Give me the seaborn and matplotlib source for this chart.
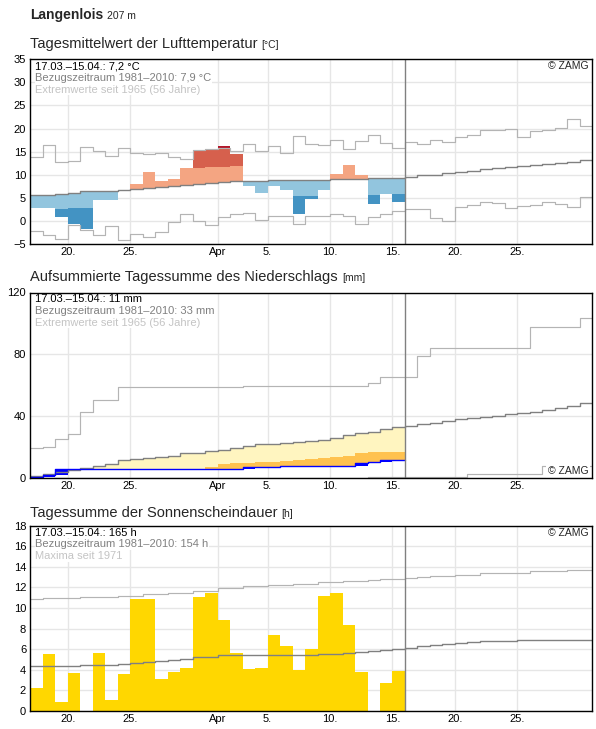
import numpy as np
import pandas as pd
import matplotlib
matplotlib.use('Agg')
import matplotlib.pyplot as plt
import seaborn as sns

# x axis = day index, 0 = 17.03., 45 days shown (up to 30.04.)
tick_pos = [3, 8, 15, 19, 24, 29, 34, 39]
tick_labels = ['20.', '25.', 'Apr', '5.', '10.', '15.', '20.', '25.']
n_obs = 30  # 17.03.-15.04.

## Temperature (degC)
temp_day = [2.9, 2.9, 0.9, -0.6, -1.7, 4.5, 4.5, 6.7, 8.1, 10.6,
            8.7, 9.1, 11.5, 15.4, 15.6, 16.2, 14.5, 7.5, 6.1, 7.5,
            6.6, 1.5, 4.7, 6.8, 10.2, 12.1, 10.0, 3.6, 5.9, 4.2]
# edge between light and strong anomaly class (nan = only light class)
temp_edge = [np.nan, np.nan, 2.6, 2.7, 2.9, np.nan, np.nan, np.nan, np.nan, np.nan,
             np.nan, np.nan, np.nan, 11.5, 11.7, 11.7, 11.9, np.nan, np.nan, np.nan,
             np.nan, 5.5, 5.5, np.nan, np.nan, np.nan, np.nan, 5.7, np.nan, 5.9]
temp_mean = [5.6, 5.6, 5.8, 6.1, 6.4, 6.4, 6.5, 6.7, 7.0, 7.2,
             7.3, 7.5, 7.8, 8.1, 8.3, 8.5, 8.6, 8.6, 8.6, 8.8,
             8.9, 8.9, 8.9, 8.9, 9.1, 9.1, 9.1, 9.2, 9.4, 9.4,
             9.6, 9.9, 10.0, 10.3, 10.6, 10.8, 11.3, 11.4, 11.6, 11.9,
             12.1, 12.3, 12.6, 12.8, 13.1]
temp_max = [13.8, 16.4, 12.7, 12.9, 15.9, 15.1, 14.0, 15.7, 14.6, 14.5,
            14.6, 13.9, 13.4, 15.4, 15.6, 15.8, 15.1, 16.6, 15.1, 16.2,
            14.6, 18.3, 16.6, 16.4, 17.6, 15.5, 17.4, 18.7, 16.8, 15.7,
            17.1, 16.6, 17.6, 17.0, 18.1, 18.5, 19.6, 19.6, 19.9, 18.1,
            19.4, 19.6, 20.2, 22.1, 20.6]
temp_min = [-2.1, -3.1, -4.0, -0.8, -2.0, -3.1, -1.1, -4.1, -2.9, -3.4,
            -2.5, -0.3, 1.4, -0.1, -0.8, 0.9, 1.4, 1.8, 0.1, 1.1,
            1.1, -0.6, 1.1, 1.0, 1.5, 1.0, -0.6, 0.8, 1.5, 2.1,
            2.6, 2.6, 0.6, 0.0, 3.1, 3.4, 4.1, 3.9, 2.9, 3.2,
            3.5, 4.1, 3.6, 3.1, 5.1]

## Precipitation (mm)
precip_day = [0.9, 1.4, 3.9, 0, 0, 0, 0, 0, 0, 0,
              0, 0, 0, 0, 0, 0, 0, 0.9, 0, 0,
              0.7, 0, 0, 0, 0, 0, 1.8, 1.2, 0.7, 0]
# lower edge of the normal range of the sum (orange below it)
precip_thr = [0, 0, 0, 0, 0, 0, 0, 0, 0, 0,
              0, 0, 0, 0, 7.5, 9.5, 9.8, 10.0, 10.8, 10.8,
              11.4, 12.0, 12.2, 13.0, 14.0, 14.6, 16.3, 17.0, 17.1, 17.2]
precip_mean = [1.7, 2.6, 3.9, 5.4, 6.9, 8.0, 9.5, 11.7, 12.3, 13.2,
               13.8, 14.7, 16.2, 16.6, 17.5, 18.4, 19.7, 20.8, 21.9, 22.4,
               22.8, 23.5, 24.4, 24.8, 25.9, 28.1, 29.2, 30.0, 31.8, 33.1,
               34.1, 35.0, 35.9, 37.2, 38.0, 38.7, 39.8, 40.4, 41.7, 42.4,
               43.0, 44.1, 45.2, 46.9, 48.6]
precip_max = [19.4, 19.9, 25.3, 28.5, 42.6, 50.8, 50.8, 59.0, 59.0, 59.0,
              59.0, 59.0, 59.0, 59.0, 59.0, 59.0, 59.0, 59.4, 59.4, 59.4,
              59.4, 59.4, 59.4, 59.4, 59.4, 59.4, 59.4, 61.5, 65.2, 65.2,
              65.2, 79.3, 84.1, 84.1, 84.1, 84.1, 84.1, 84.1, 84.1, 84.1,
              97.7, 97.7, 97.7, 97.7, 103.7]
precip_min = [0.3] * 27 + [1.0] * 8 + [2.8] * 6 + [8.0] * 4

## Sunshine (h)
sun_day = [2.25, 5.5, 0.9, 3.65, 0, 5.65, 1.1, 3.55, 10.9, 10.9,
           3.1, 3.8, 4.2, 11.1, 11.5, 8.8, 5.65, 4.1, 4.2, 7.4,
           6.3, 4.0, 6.05, 11.2, 11.5, 8.4, 3.8, 0, 2.7, 3.9]
sun_mean = [4.4, 4.4, 4.4, 4.4, 4.46, 4.46, 4.5, 4.6, 4.7, 4.8,
            4.9, 5.0, 5.05, 5.25, 5.25, 5.45, 5.45, 5.45, 5.45, 5.45,
            5.45, 5.45, 5.45, 5.5, 5.5, 5.6, 5.75, 5.8, 5.9, 6.0,
            6.15, 6.3, 6.4, 6.5, 6.6, 6.7, 6.8, 6.8, 6.8, 6.9,
            6.9, 6.9, 6.9, 6.9, 6.9]
sun_max = [10.9, 11.0, 11.0, 11.0, 11.1, 11.1, 11.1, 11.2, 11.2, 11.4,
           11.4, 11.5, 11.5, 11.7, 11.7, 11.9, 11.9, 12.1, 12.1, 12.2,
           12.2, 12.35, 12.35, 12.5, 12.5, 12.6, 12.6, 12.7, 12.85, 12.85,
           12.9, 13.0, 13.1, 13.1, 13.25, 13.25, 13.45, 13.45, 13.45, 13.45,
           13.6, 13.6, 13.6, 13.7, 13.7]

sns.set_theme(style='whitegrid')
plt.rcParams['font.family'] = ['Liberation Sans', 'DejaVu Sans']

W, H = 596, 729
fig = plt.figure(figsize=(W / 100, H / 100), dpi=100)


def px_axes(l, t, r, b):
    return fig.add_axes([l / W, 1 - b / H, (r - l) / W, (b - t) / H])


def step(ax, vals, color, lw=0.85, z=3):
    vals = list(vals)
    d = pd.DataFrame({'x': np.arange(len(vals) + 1), 'y': vals + [vals[-1]]})
    sns.lineplot(data=d, x='x', y='y', ax=ax, color=color, lw=lw,
                 drawstyle='steps-post', estimator=None, sort=False, zorder=z)


def setup(ax, ylim, yticks):
    ax.set_xlim(0, 45)
    ax.set_ylim(*ylim)
    ax.set_xticks(tick_pos)
    ax.set_xticklabels(tick_labels)
    ax.set_yticks(yticks)
    ax.set_xlabel('')
    ax.set_ylabel('')
    ax.grid(True, color='#e6e6e6', lw=1)
    ax.set_axisbelow(True)
    ax.tick_params(length=0, labelsize=8, colors='black', pad=3)
    ax.tick_params(axis='x', pad=2)
    for s in ax.spines.values():
        s.set_color('black')
        s.set_linewidth(1.0)
        s.set_zorder(10)
    ax.axvline(n_obs, color='#808080', lw=1.0, zorder=5)


def info(ax, lines):
    cols = ['black', '#808080', '#c4c4c4']
    for i, (s, c) in enumerate(zip(lines, cols)):
        ax.annotate(s, xy=(0, 1), xycoords='axes fraction',
                    xytext=(5, -7 - 11.6 * i), textcoords='offset pixels',
                    ha='left', va='center', color=c, fontsize=8, zorder=6,
                    bbox=dict(fc='white', ec='none', pad=0.6))


def title(y, text, unit):
    t = fig.text(30 / W, 1 - y / H, text, fontsize=10.5, va='center', ha='left')
    plt.annotate(unit, xy=(1, 0), xycoords=t, xytext=(3, 0.5),
                 textcoords='offset points', va='bottom', ha='left', fontsize=7.5)


days = np.arange(n_obs)

# ------------------------------------------------------------ temperature
ax1 = px_axes(30.3, 59.3, 592.3, 244)
t = np.array(temp_day)
m = np.array(temp_mean[:n_obs])
e = np.array(temp_edge)
mx = np.array(temp_max[:n_obs])
light_end = np.where(np.isnan(e), t, e)
cold = t < m
warm = t > m
strong = ~np.isnan(e)
bar_kw = dict(width=1, align='edge', lw=0, zorder=2)
ax1.bar(days[cold], (light_end - m)[cold], bottom=m[cold], color='#92c5de', **bar_kw)
ax1.bar(days[cold & strong], (t - e)[cold & strong], bottom=e[cold & strong], color='#4393c3', **bar_kw)
ax1.bar(days[warm], (light_end - m)[warm], bottom=m[warm], color='#f4a582', **bar_kw)
red_top = np.minimum(t, mx)
ax1.bar(days[warm & strong], (red_top - e)[warm & strong], bottom=e[warm & strong], color='#d6604d', **bar_kw)
rec = t > mx
ax1.bar(days[rec], (t - mx)[rec], bottom=mx[rec], color='#b2182b', **bar_kw)
step(ax1, temp_max, '#b4b4b4')
step(ax1, temp_min, '#b4b4b4')
step(ax1, temp_mean, '#808080', lw=1.0)
setup(ax1, (-5, 35), np.arange(-5, 36, 5))
info(ax1, ['17.03.\u201315.04.: 7,2 \u00b0C',
           'Bezugszeitraum 1981\u20132010: 7,9 \u00b0C',
           'Extremwerte seit 1965 (56 Jahre)'])
ax1.annotate('\u00a9 ZAMG', xy=(1, 1), xycoords='axes fraction', xytext=(-4, -7),
             textcoords='offset pixels', ha='right', va='center', fontsize=7.5)

# ------------------------------------------------------------ precipitation
ax2 = px_axes(30.3, 292.5, 592.3, 478.3)
p = np.array(precip_day)
cum = np.cumsum(p)
pm = np.array(precip_mean[:n_obs])
thr = np.array(precip_thr)
low = np.maximum(cum, thr)
dry = pm > low
ax2.bar(days[dry], (pm - low)[dry], bottom=low[dry], color='#fff5c0', **bar_kw)
vdry = thr > cum
ax2.bar(days[vdry], (thr - cum)[vdry], bottom=cum[vdry], color='#ffc24f', **bar_kw)
wet = p > 0
ax2.bar(days[wet], p[wet], bottom=(cum - p)[wet], color='#0000ff', **bar_kw)
step(ax2, precip_max, '#b4b4b4')
step(ax2, precip_min, '#b4b4b4')
step(ax2, precip_mean, '#808080', lw=1.0)
step(ax2, cum, '#0000ff', lw=1.0, z=4)
setup(ax2, (0, 120), [0, 40, 80, 120])
info(ax2, ['17.03.\u201315.04.: 11 mm',
           'Bezugszeitraum 1981\u20132010: 33 mm',
           'Extremwerte seit 1965 (56 Jahre)'])
ax2.annotate('\u00a9 ZAMG', xy=(1, 0), xycoords='axes fraction', xytext=(-4, 7),
             textcoords='offset pixels', ha='right', va='center', fontsize=7.5,
             zorder=6, bbox=dict(fc='white', ec='none', pad=1.5))

# ------------------------------------------------------------ sunshine
ax3 = px_axes(30.3, 525.7, 592.3, 711)
sun_df = pd.DataFrame({'day': days + 0.5, 'hours': sun_day})
sns.histplot(data=sun_df, x='day', weights='hours', bins=n_obs, binrange=(0, n_obs),
             color='#ffd700', alpha=1, ax=ax3)
for patch in ax3.patches:
    patch.set_edgecolor('none')
    patch.set_linewidth(0)
    patch.set_zorder(2)
step(ax3, sun_max, '#b4b4b4')
step(ax3, sun_mean, '#808080', lw=1.0)
setup(ax3, (0, 18), np.arange(0, 19, 2))
info(ax3, ['17.03.\u201315.04.: 165 h',
           'Bezugszeitraum 1981\u20132010: 154 h',
           'Maxima seit 1971'])
ax3.annotate('\u00a9 ZAMG', xy=(1, 1), xycoords='axes fraction', xytext=(-4, -7),
             textcoords='offset pixels', ha='right', va='center', fontsize=7.5)

# ------------------------------------------------------------ titles
st = fig.text(30 / W, 1 - 15 / H, 'Langenlois', fontsize=10, fontweight='bold',
              va='center', ha='left')
plt.annotate('207 m', xy=(1, 0), xycoords=st, xytext=(3, 0.5),
             textcoords='offset points', va='bottom', ha='left', fontsize=7.5)
title(44, 'Tagesmittelwert der Lufttemperatur', '[\u00b0C]')
title(277, 'Aufsummierte Tagessumme des Niederschlags', '[mm]')
title(513, 'Tagessumme der Sonnenscheindauer', '[h]')

fig.savefig('out.png', dpi=100)
